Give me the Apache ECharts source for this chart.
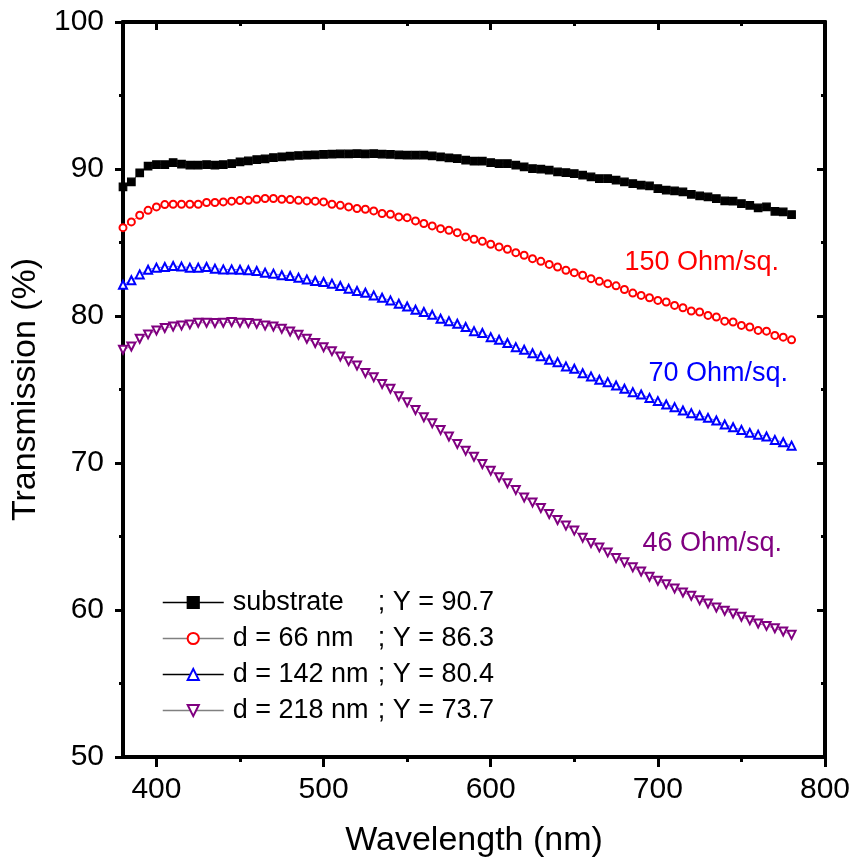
<!DOCTYPE html>
<html>
<head>
<meta charset="utf-8">
<script src="https://cdn.jsdelivr.net/npm/echarts@6/dist/echarts.min.js"></script>
<style>
html,body{margin:0;padding:0;background:#fff;}
#chart{width:854px;height:863px;}
</style>
</head>
<body>
<div id="chart"></div>
<script>
// ---- data ----
const wavelengths = [380,385,390,395,400,405,410,415,420,425,430,435,440,445,450,455,460,465,470,475,
  480,485,490,495,500,505,510,515,520,525,530,535,540,545,550,555,560,565,570,575,
  580,585,590,595,600,605,610,615,620,625,630,635,640,645,650,655,660,665,670,675,
  680,685,690,695,700,705,710,715,720,725,730,735,740,745,750,755,760,765,770,775,780];

const substrate = [88.78,89.12,89.74,90.19,90.30,90.30,90.44,90.33,90.26,90.26,90.30,90.26,90.30,90.37,90.49,90.55,90.64,90.69,90.78,90.83,
  90.87,90.92,90.94,90.96,90.99,91.01,91.03,91.03,91.05,91.03,91.05,91.01,91.00,90.96,
  90.94,90.94,90.94,90.89,90.83,90.76,90.71,90.60,90.53,90.53,90.44,90.37,90.37,90.26,90.15,90.03,89.99,89.92,89.80,89.76,
  89.69,89.58,89.46,89.35,89.35,89.24,89.12,89.01,88.90,88.85,88.67,88.56,88.51,88.44,88.28,88.17,88.10,87.99,87.83,87.81,
  87.65,87.53,87.35,87.42,87.12,87.08,86.90];

const d66 = [86.01,86.40,86.85,87.19,87.42,87.58,87.60,87.60,87.60,87.60,87.72,87.72,87.76,87.81,87.85,87.87,87.94,87.99,87.99,87.94,
  87.92,87.87,87.83,87.81,87.76,87.60,87.53,87.42,87.31,87.26,87.15,86.97,86.92,86.74,
  86.69,86.47,86.29,86.13,85.94,85.83,85.67,85.38,85.22,85.08,84.88,84.70,84.54,84.31,84.13,83.90,83.72,83.51,83.33,83.11,
  82.95,82.77,82.54,82.36,82.20,82.05,81.80,81.56,81.40,81.24,81.06,80.95,80.72,80.56,80.34,80.27,80.04,79.93,79.65,79.59,
  79.36,79.25,79.02,78.97,78.68,78.56,78.38];

const d142 = [82.13,82.43,82.83,83.15,83.29,83.33,83.40,83.36,83.29,83.29,83.33,83.22,83.17,83.17,83.15,83.11,83.06,82.95,82.88,82.77,
  82.72,82.61,82.49,82.38,82.31,82.20,82.04,81.86,81.70,81.58,81.40,81.24,81.06,80.83,
  80.65,80.43,80.27,80.08,79.81,79.65,79.47,79.25,78.97,78.84,78.56,78.38,78.16,77.88,77.70,77.47,77.27,77.02,76.86,76.57,
  76.41,76.11,75.89,75.66,75.50,75.27,75.05,74.82,74.66,74.43,74.21,73.98,73.80,73.57,73.39,73.23,73.07,72.89,72.62,72.43,
  72.25,72.05,71.93,71.80,71.57,71.41,71.18];

const d218 = [77.70,77.93,78.45,78.75,79.02,79.18,79.29,79.36,79.43,79.54,79.54,79.52,79.54,79.59,79.54,79.52,79.47,79.36,79.29,79.13,
  78.95,78.72,78.45,78.16,77.88,77.61,77.25,76.93,76.63,76.13,75.84,75.38,75.05,74.54,
  74.14,73.61,73.11,72.71,72.25,71.80,71.30,70.84,70.43,69.93,69.48,69.03,68.62,68.17,67.66,67.32,66.94,66.53,66.12,65.74,
  65.40,64.92,64.55,64.26,63.92,63.53,63.24,62.90,62.62,62.26,61.99,61.76,61.47,61.19,60.97,60.67,60.44,60.17,59.95,59.76,
  59.54,59.31,59.08,58.92,58.76,58.54,58.31];

const seriesNames = ['substrate', 'd = 66 nm', 'd = 142 nm', 'd = 218 nm'];
const averageY = ['90.7', '86.3', '80.4', '73.7'];
const annotations = ['150 Ohm/sq.', '70 Ohm/sq.', '46 Ohm/sq.'];

const xTicks = [400, 500, 600, 700, 800];
const xMinorTicks = [450, 550, 650, 750];
const xRange = [380, 800];
const yRange = [50, 100];
const yInterval = 10;
const xTitle = 'Wavelength (nm)';
const yTitle = 'Transmission (%)';

// ---- chart ----
const FONT = "'Liberation Sans', Arial, Helvetica, sans-serif";
const chart = echarts.init(document.getElementById('chart'), null, {renderer: 'canvas'});
const pair = arr => wavelengths.map((w, i) => [w, arr[i]]);
const allData = [substrate, d66, d142, d218];
const colors = ['#000000', '#ff0000', '#0000ff', '#800080'];
const symbols = ['rect', 'emptyCircle', 'emptyTriangle', 'emptyTriangle'];
const symbolSizes = [7.5, 7, 8, 8];
const rotations = [0, 0, 0, 180];
const legendLineColors = ['#000000', '#808080', '#000000', '#808080'];

const axisLineStyle = {color: '#000', width: 4};

function xAxisDef(position, ticks, len, inside, labels, name) {
  return {
    type: 'value', position: position, min: xRange[0], max: xRange[1],
    axisLine: {show: true, onZero: false, lineStyle: axisLineStyle},
    axisTick: {show: true, customValues: ticks, length: len, inside: inside, lineStyle: {color: '#000', width: 3}},
    axisLabel: labels ? {show: true, customValues: ticks, margin: 18, color: '#000', fontSize: 30, fontFamily: FONT} : {show: false},
    splitLine: {show: false},
    name: name || '', nameLocation: 'middle', nameGap: 67,
    nameTextStyle: {color: '#000', fontSize: 34, fontFamily: FONT}
  };
}

const option = {
  backgroundColor: '#fff',
  animation: false,
  grid: {left: 123, right: 29, top: 22, bottom: 106, containLabel: false},
  xAxis: [
    xAxisDef('bottom', xTicks, 10, false, true, xTitle),
    xAxisDef('bottom', xMinorTicks, 5, false, false),
    xAxisDef('top', xTicks, 8, true, false),
    xAxisDef('top', xMinorTicks, 4, true, false)
  ],
  yAxis: [
    {
      type: 'value', position: 'left', min: yRange[0], max: yRange[1], interval: yInterval,
      axisLine: {show: true, onZero: false, lineStyle: axisLineStyle},
      axisTick: {show: true, length: 8, inside: false, lineStyle: {color: '#000', width: 3}},
      minorTick: {show: true, splitNumber: 2, length: 4, lineStyle: {color: '#000', width: 3}},
      axisLabel: {show: true, margin: 19, color: '#000', fontSize: 30, fontFamily: FONT},
      splitLine: {show: false}, minorSplitLine: {show: false},
      name: yTitle, nameLocation: 'middle', nameGap: 75, nameRotate: 90,
      nameTextStyle: {color: '#000', fontSize: 34, fontFamily: FONT}
    },
    {
      type: 'value', position: 'right', min: yRange[0], max: yRange[1], interval: yInterval,
      axisLine: {show: true, onZero: false, lineStyle: axisLineStyle},
      axisTick: {show: true, length: 8, inside: true, lineStyle: {color: '#000', width: 3}},
      minorTick: {show: true, splitNumber: 2, length: 4, lineStyle: {color: '#000', width: 3}},
      axisLabel: {show: false},
      splitLine: {show: false}, minorSplitLine: {show: false}
    }
  ],
  legend: {
    show: true, orient: 'vertical', left: 162, top: 589, padding: 0,
    itemWidth: 61, itemHeight: 14, itemGap: 9, selectedMode: false,
    data: seriesNames.map((n, i) => ({name: n, lineStyle: {color: legendLineColors[i], width: 1.5, opacity: 1}})),
    formatter: function (name) {
      const i = seriesNames.indexOf(name);
      return '{n|' + name + '}{v|; Y = ' + averageY[i] + '}';
    },
    textStyle: {
      color: '#000', fontSize: 27, fontFamily: FONT, padding: [0, 0, 0, 4],
      rich: {
        n: {width: 145, fontSize: 27, fontFamily: FONT, color: '#000'},
        v: {fontSize: 27, fontFamily: FONT, color: '#000'}
      }
    }
  },
  series: allData.map((arr, i) => ({
    name: seriesNames[i], type: 'line', xAxisIndex: 0, yAxisIndex: 0,
    data: pair(arr),
    symbol: symbols[i], symbolSize: symbolSizes[i], symbolRotate: rotations[i],
    showAllSymbol: true,
    lineStyle: {color: colors[i], width: 1, opacity: 0.6},
    itemStyle: {color: colors[i], borderColor: colors[i], borderWidth: 1.2},
    emphasis: {disabled: true},
    z: 3 + i
  })),
  graphic: [
    {type: 'text', right: 854 - 779, top: 249, style: {text: annotations[0], fill: '#ff0000', font: '27px ' + FONT}},
    {type: 'text', right: 854 - 788, top: 360, style: {text: annotations[1], fill: '#0000ff', font: '27px ' + FONT}},
    {type: 'text', right: 854 - 782, top: 530, style: {text: annotations[2], fill: '#800080', font: '27px ' + FONT}}
  ]
};
chart.setOption(option);
</script>
</body>
</html>
